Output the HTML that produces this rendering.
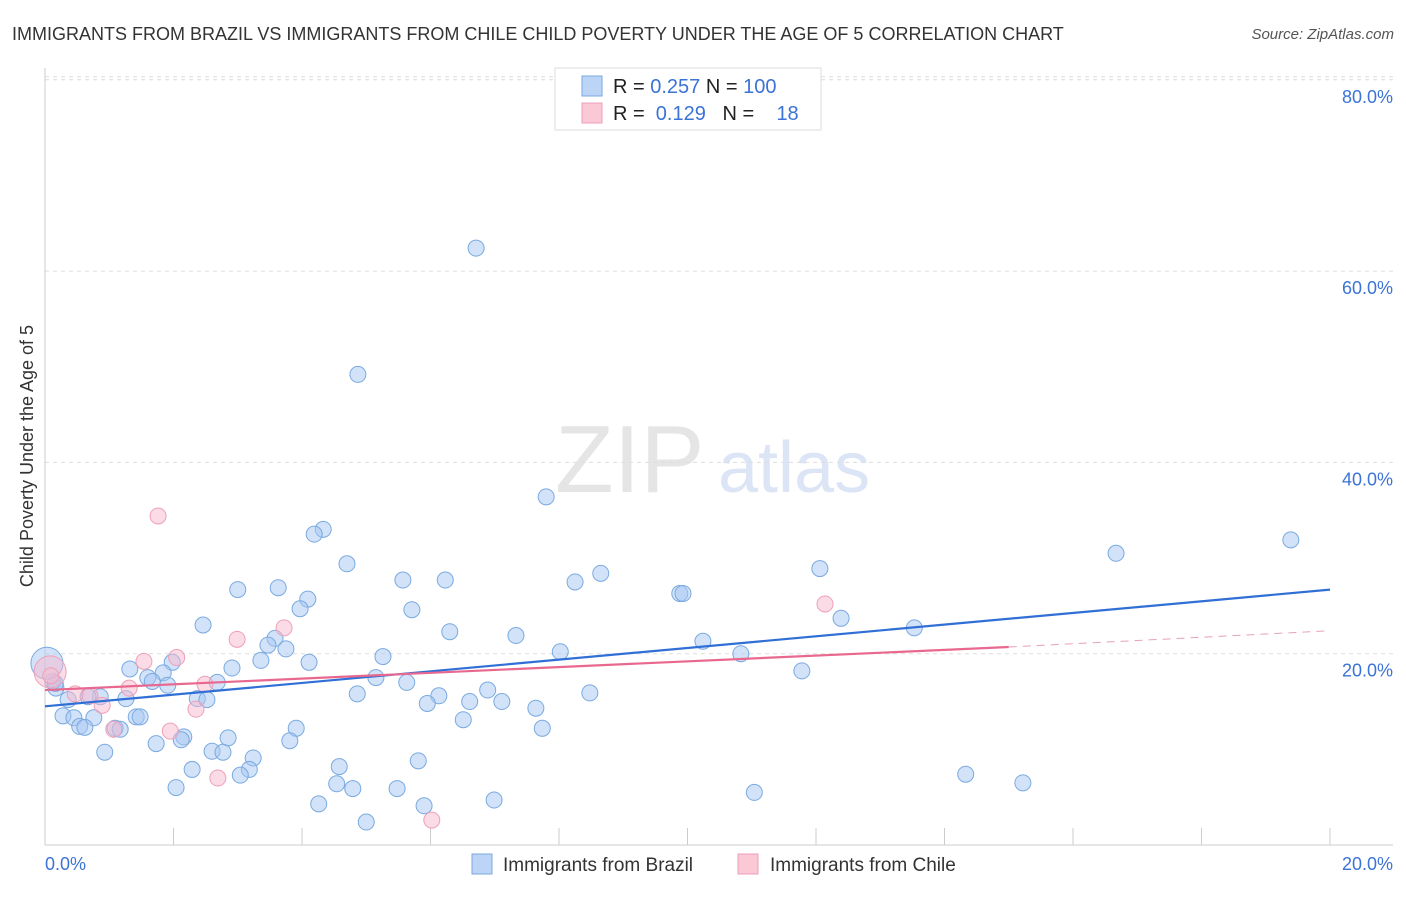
<!DOCTYPE html>
<html><head><meta charset="utf-8"><style>
body{margin:0;background:#fff;font-family:"Liberation Sans",sans-serif;}
svg text{font-family:"Liberation Sans",sans-serif;}
</style></head><body>
<svg id="c" width="1406" height="892" xmlns="http://www.w3.org/2000/svg">
<text x="12" y="40" font-size="18" fill="#333">IMMIGRANTS FROM BRAZIL VS IMMIGRANTS FROM CHILE CHILD POVERTY UNDER THE AGE OF 5 CORRELATION CHART</text>
<text x="1394" y="39" font-size="15" fill="#555" font-style="italic" text-anchor="end">Source: ZipAtlas.com</text>
<text transform="translate(33,456) rotate(-90)" font-size="18" fill="#333" text-anchor="middle">Child Poverty Under the Age of 5</text>
<g opacity="0.5"><text x="555" y="492" font-size="96" font-family="Liberation Serif" fill="#ccc">ZIP</text><text x="718" y="492" font-size="72" fill="#b8cdee">atlas</text></g>
<g id="grid"></g><g id="axes"></g><g id="marks"></g>
<g>
<rect x="555" y="68" width="266" height="62" fill="#fff" stroke="#ddd"/>
<rect x="582" y="76" width="20" height="20" fill="#bcd4f5" stroke="#7aaae0"/>
<rect x="582" y="103" width="20" height="20" fill="#fbc8d6" stroke="#eea0b8"/>
<text x="613" y="93" font-size="20" fill="#222">R = <tspan fill="#3b73d6">0.257</tspan>   N = <tspan fill="#3b73d6">100</tspan></text>
<text x="613" y="120" font-size="20" fill="#222" xml:space="preserve">R =  <tspan fill="#3b73d6">0.129</tspan>   N =    <tspan fill="#3b73d6">18</tspan></text>
</g>
<g>
<rect x="472" y="854" width="20" height="20" fill="#bcd4f5" stroke="#7aaae0"/>
<text x="503" y="871" font-size="19" fill="#333">Immigrants from Brazil</text>
<rect x="738" y="854" width="20" height="20" fill="#fbc8d6" stroke="#eea0b8"/>
<text x="770" y="871" font-size="19" fill="#333">Immigrants from Chile</text>
</g>
</svg>
<script>
const yTicks=[20,40,60,80];
const yTickLabels=["20.0%","40.0%","60.0%","80.0%"];
const xTicks=[0,2,4,6,8,10,12,14,16,18,20];
const xLabels=["0.0%","20.0%"];
const brazilX=[6.71,4.87,7.80,4.33,4.19,19.39,16.67,4.70,8.65,8.25,5.57,6.23,3.00,3.63,12.06,9.88,9.93,4.09,3.97,5.71,12.39,2.46,6.30,7.33,13.53,3.58,3.47,3.75,10.24,8.02,10.83,5.26,3.36,4.11,1.32,2.91,1.98,1.84,11.78,1.60,1.67,1.91,5.15,5.63,2.68,6.89,8.48,4.86,6.13,2.37,2.52,1.26,0.86,0.67,0.17,0.36,5.95,6.61,7.11,7.64,0.28,0.45,0.76,1.42,1.48,0.54,0.62,1.09,1.17,6.51,3.91,7.74,2.16,2.85,3.81,1.73,2.12,0.93,2.60,2.77,3.24,5.81,2.29,3.18,3.04,4.58,14.33,15.22,4.54,2.04,4.79,5.48,11.04,6.99,4.26,5.90,5.00,0.12,0.16,0.03];
const brazilY=[62.4,49.2,36.4,33.0,32.5,31.9,30.5,29.4,28.4,27.5,27.7,27.7,26.7,26.9,28.9,26.3,26.3,25.7,24.7,24.6,23.7,23.0,22.3,21.9,22.7,21.6,20.9,20.5,21.3,20.2,20.0,19.7,19.3,19.1,18.4,18.5,19.1,18.0,18.2,17.5,17.1,16.7,17.5,17.0,17.0,16.2,15.9,15.8,15.6,15.3,15.2,15.3,15.5,15.5,16.4,15.2,14.8,15.0,15.0,14.3,13.5,13.3,13.3,13.4,13.4,12.4,12.3,12.2,12.1,13.1,12.2,12.2,11.3,11.2,10.9,10.6,11.0,9.7,9.8,9.7,9.1,8.8,7.9,7.9,7.3,8.2,7.4,6.5,6.4,6.0,5.9,5.9,5.5,4.7,4.3,4.1,2.4,17.1,16.9,19.0];
const chileX=[1.76,2.99,3.72,2.05,1.54,0.08,0.09,0.47,0.70,1.31,0.89,1.07,1.95,2.35,2.49,2.69,6.02,12.14];
const chileY=[34.4,21.5,22.7,19.6,19.2,18.1,17.7,15.8,15.6,16.4,14.6,12.1,11.9,14.2,16.8,7.0,2.6,25.2];
const brazilTrend=[[0,14.5],[20,26.7]];
const chileTrend=[[0,16.2],[15.0,20.7]];
const chileTrendExt=[[15.0,20.7],[20,22.4]];
const NS="http://www.w3.org/2000/svg";
const X=v=>45+v*64.25, Y=v=>845-v*9.565;
function mk(t,a,p){const e=document.createElementNS(NS,t);for(const k in a)e.setAttribute(k,a[k]);document.getElementById(p).appendChild(e);return e;}
yTicks.forEach((t,i)=>{
 const g=mk('line',{x1:45,x2:1393,y1:Y(t),y2:Y(t),stroke:'#ddd','stroke-dasharray':'4,4'},'grid');
 
 
 const l=mk('text',{x:1393,y:Y(t)+23,'font-size':18,fill:'#3b73d6','text-anchor':'end'},'grid');l.textContent=yTickLabels[i];
 
 
});
const topG=mk('line',{x1:45,x2:1393,y1:Y(80)-3,y2:Y(80)-3,stroke:'#ddd','stroke-dasharray':'4,4'},'grid');
mk('line',{x1:45,x2:45,y1:68,y2:845,stroke:'#ccc'},'axes');
mk('line',{x1:45,x2:1393,y1:845,y2:845,stroke:'#ccc'},'axes');
xTicks.forEach(t=>{const e=mk('line',{x1:X(t),x2:X(t),y1:828,y2:845,stroke:'#ccc'},'axes');
 
 });
const xl0=mk('text',{x:45,y:870,'font-size':18,fill:'#3b73d6'},'axes');xl0.textContent=xLabels[0];

const xl1=mk('text',{x:1393,y:870,'font-size':18,fill:'#3b73d6','text-anchor':'end'},'axes');xl1.textContent=xLabels[1];

function pts(xs,ys,fill,stroke,name){xs.forEach((x,i)=>{const big=x<0.1&&(name==='brazil-point'?ys[i]>18.5:ys[i]>18);
 const c=mk('circle',{cx:X(x),cy:Y(ys[i]),r:big?16:8,fill:fill,stroke:stroke,'stroke-width':1},'marks');
 
 });}
pts(brazilX,brazilY,'rgba(165,198,242,0.5)','#7aaae0','brazil-point');
pts(chileX,chileY,'rgba(247,185,205,0.5)','#eea0b8','chile-point');
function ln(d,col,dash,name){const e=mk('line',{x1:X(d[0][0]),y1:Y(d[0][1]),x2:X(d[1][0]),y2:Y(d[1][1]),stroke:col,'stroke-width':dash?1:2.2},'marks');if(dash)e.setAttribute('stroke-dasharray','8,6');
 
 }
ln(brazilTrend,'#2f6fd6',false,'brazil-trend-line');
ln(chileTrend,'#e8688f',false,'chile-trend-line');
ln(chileTrendExt,'#e8a0b5',true,'chile-trend-extension');
</script>
</body></html>
